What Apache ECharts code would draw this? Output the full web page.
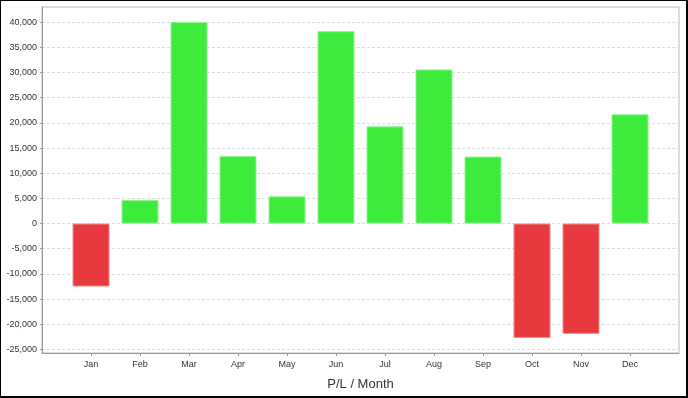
<!DOCTYPE html>
<html>
<head>
<meta charset="utf-8">
<script src="https://cdn.jsdelivr.net/npm/echarts@6/dist/echarts.min.js"></script>
<style>
  html, body { margin: 0; padding: 0; background: #fff; }
  #wrap {
    width: 688px;
    height: 398px;
    box-sizing: border-box;
    border-left: 1px solid #000;
    border-top: 1px solid #000;
    border-right: 2px solid #000;
    border-bottom: 2px solid #000;
  }
  #chart { width: 685px; height: 395px; }
</style>
</head>
<body>
<div id="wrap"><div id="chart"></div></div>
<script>
// 月份
const months = ['Jan', 'Feb', 'Mar', 'Apr', 'May', 'Jun', 'Jul', 'Aug', 'Sep', 'Oct', 'Nov', 'Dec'];
// 月度盈亏
const plValues = [-12500, 4700, 40000, 13400, 5400, 38200, 19300, 30600, 13300, -22700, -21900, 21700];
// y 轴刻度
const yTicks = [-25000, -20000, -15000, -10000, -5000, 0, 5000, 10000, 15000, 20000, 25000, 30000, 35000, 40000];

// 两端各留一个空位，让 Jan / Dec 离边框一格
const categories = [''].concat(months, ['']);
const barData = ['-'].concat(
  plValues.map((v) => ({
    value: v,
    itemStyle: v < 0
      ? { color: '#e8393e', borderColor: '#f08a8c' }
      : { color: '#3deb3b', borderColor: '#92f290' },
  })),
  ['-'],
);
const lastIdx = categories.length - 1;
const innerIdx = (i) => i > 0 && i < lastIdx;

const font = 'Liberation Sans, Arial, sans-serif';
const myChart = echarts.init(document.getElementById('chart'));
const option = {
  animation: false,
  grid: {
    left: 41,
    top: 6,
    right: 7,
    bottom: 43,
    outerBoundsMode: 'none',
    show: true,
    borderColor: '#bbbbbb',
    borderWidth: 1,
  },
  xAxis: {
    type: 'category',
    data: categories,
    boundaryGap: false,
    name: 'P/L / Month',
    nameLocation: 'middle',
    nameGap: 25,
    nameTextStyle: { color: '#333', fontSize: 13, fontFamily: font },
    axisLine: { onZero: false, lineStyle: { color: '#999', width: 1 } },
    axisTick: { length: 3, interval: innerIdx, lineStyle: { color: '#999' } },
    axisLabel: { interval: innerIdx, color: '#333', fontSize: 9, fontFamily: font, margin: 7 },
    splitLine: { show: false },
  },
  yAxis: {
    type: 'value',
    min: -25700,
    max: 43000,
    axisLine: { show: true, lineStyle: { color: '#999', width: 1 } },
    axisTick: { show: true, length: 2, customValues: yTicks, lineStyle: { color: '#999' } },
    axisLabel: {
      customValues: yTicks,
      color: '#333',
      fontSize: 9,
      fontFamily: font,
      margin: 5,
      formatter: (v) => v.toLocaleString('en-US'),
    },
    splitLine: {
      show: true,
      lineStyle: { color: '#dcdcdc', type: [3, 2], width: 1 },
    },
  },
  series: [
    {
      type: 'bar',
      data: barData,
      barWidth: 37,
      itemStyle: { borderWidth: 1 },
    },
  ],
};
myChart.setOption(option);
</script>
</body>
</html>
